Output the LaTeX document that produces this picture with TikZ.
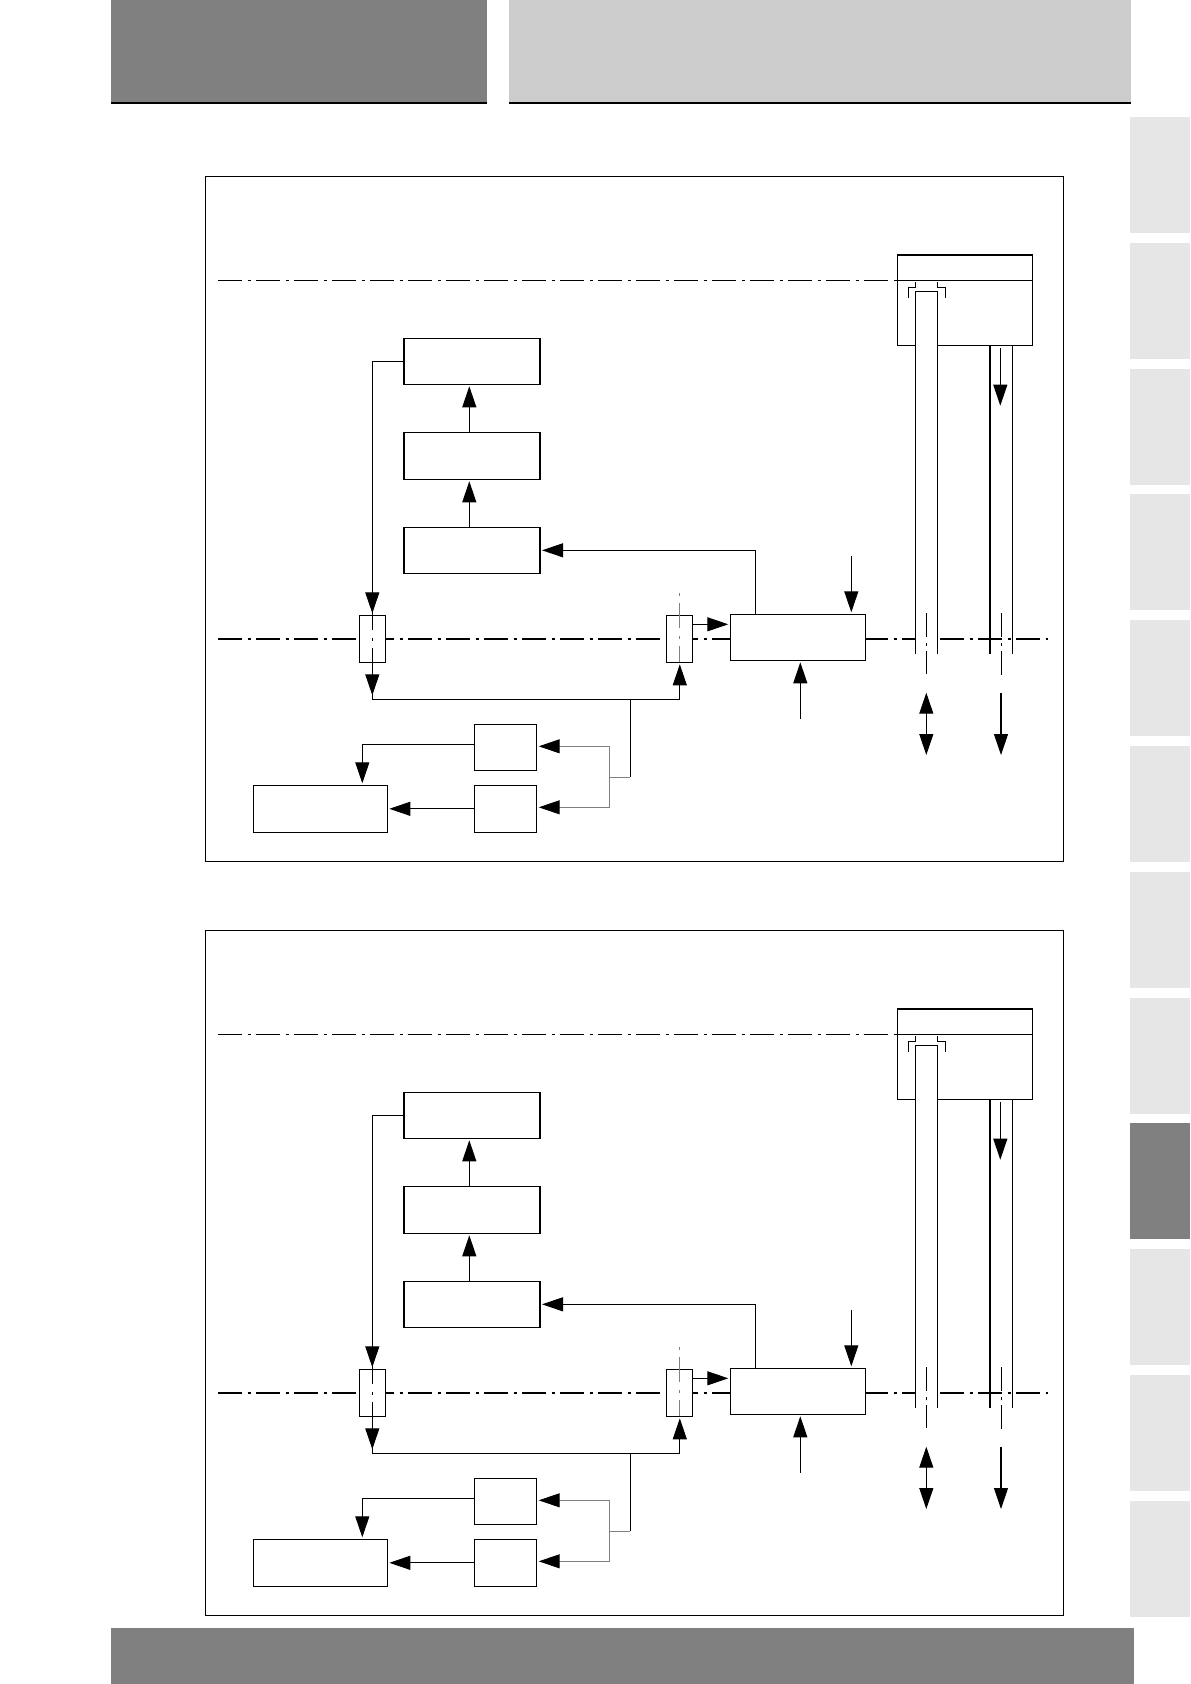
\documentclass[tikz,border=0pt]{standalone}
\usepackage{tikz}
\usetikzlibrary{arrows.meta, positioning}
\usepackage{xcolor}

\definecolor{headdark}{HTML}{808080}
\definecolor{headlight}{HTML}{CCCCCC}
\definecolor{tablight}{HTML}{E6E6E6}

\tikzset{
    panel/.pic={
        % Axes go first, the boxes are filled white on top
        \coordinate (ua) at (4.36,-5.606);
        \coordinate (ub) at (17.946,-5.606);
        \coordinate (ma) at (4.36,-12.78);
        \coordinate (mb) at (20.96,-12.78);
        \draw[thinaxis] (ua) -- (ub);
        \draw[thickaxis] (ma) -- (mb);
        % Frame
        \node[box, minimum width=17.16cm, minimum height=13.7cm, fill=none] (frame) at (12.69,-10.38) {};
        % Nodes
        \node[box, minimum width=2.72cm, minimum height=0.92cm] (store) at (9.44,-11.006) {};
        \node[box, minimum width=2.72cm, minimum height=0.94cm, above=0.96cm of store] (calc) {};
        \node[box, minimum width=2.72cm, minimum height=0.92cm, above=0.96cm of calc] (ctrl) {};
        \node[gate] (gl) at (7.446,-12.776) {};
        \node[gate, right=5.62cm of gl] (gr) {};
        \node[box, minimum width=2.71cm, minimum height=0.92cm, right=0.76cm of gr, yshift=0.03cm] (unit) {};
        \node[box, minimum width=1.248cm, minimum height=0.92cm] (sa) at (10.11,-14.946) {};
        \node[box, minimum width=1.248cm, minimum height=0.94cm, below=0.30cm of sa] (sb) {};
        \node[box, minimum width=2.68cm, minimum height=0.94cm, left=1.74cm of sb] (out) {};
        \node[box, minimum width=2.708cm, minimum height=1.806cm] (tank) at (19.3,-6.003) {};
        % Tank and pipes
        \draw (tank.west |- ua) -- (tank.east |- ua);
        \draw[fill=white] (18.306,-13.074) -- (18.306,-5.826) -- (18.746,-5.826) -- (18.746,-13.074);
        \draw (19.8,-6.906) -- (19.8,-13.074);
        \draw (20.246,-6.906) -- (20.246,-13.074);
        \draw (18.166,-5.954) -- (18.166,-5.746) -- (18.306,-5.746) -- (18.306,-5.64);
        \draw (18.906,-5.954) -- (18.906,-5.746) -- (18.746,-5.746) -- (18.746,-5.64);
        % Vertical axes
        \draw[vaxis] ([yshift=0.21cm]gl.north) -- (gl.south);
        \draw[vaxis, gray, dash phase=0.66cm] ([xshift=0.01cm, yshift=0.45cm]gr.north) -- ([xshift=0.01cm]gr.south);
        \coordinate (pa) at (18.526,-12.266);
        \coordinate (pb) at (18.526,-13.48);
        \coordinate (qa) at (20.034,-12.266);
        \coordinate (qb) at (20.034,-13.5);
        \draw[pipeaxis] (pa) -- (pb);
        \draw[pipeaxis] (qa) -- (qb);
        % Arrows
        \draw[arr] (store.north -| 9.386,0) -- (calc.south -| 9.386,0);
        \draw[arr] (calc.north -| 9.386,0) -- (ctrl.south -| 9.386,0);
        \draw[arr] (ctrl.west) -| (gl.north);
        \draw[arr] ([xshift=-0.854cm]unit.north) |- (store.east);
        \draw[arr] ([yshift=0.29cm]gr.east) -- ([yshift=0.26cm]unit.west);
        \coordinate (busl) at (7.446,-13.986);
        \coordinate (tee) at (12.606,-13.986);
        \coordinate (splt) at (12.186,-15.546);
        \draw (gl.south) -- (busl);
        \draw[arr, shorten >=0.08cm] (gl.south) -- (busl);
        \draw[arr] (busl) -| ([xshift=0.01cm]gr.south);
        \draw (tee) -- (tee |- splt);
        \draw[gray] (tee |- splt) -- (splt);
        \draw[greyarr] (splt) |- ([yshift=0.02cm]sa.east);
        \draw[greyarr] (splt) |- ([yshift=0.03cm]sb.east);
        \draw[arr] ([yshift=0.06cm]sa.west) -| ([xshift=0.84cm]out.north);
        \draw[arr] (sb.west) -- (out.east);
        \coordinate (ina) at (17.026,-11.12);
        \coordinate (inb) at (16.006,-14.38);
        \draw[arr] (ina) -- (ina |- unit.north);
        \draw[arr] (inb) -- (inb |- unit.south);
        \coordinate (dra) at (20.006,-6.966);
        \coordinate (drb) at (20.006,-8.114);
        \draw[arr, shorten >=0pt] (dra) -- (drb);
        \coordinate (bia) at (18.526,-13.854);
        \coordinate (bib) at (18.526,-15.1);
        \draw[biarr] (bia) -- (bib);
        \coordinate (ota) at (20.02,-13.866);
        \coordinate (otb) at (20.02,-15.1);
        \draw[arr, shorten >=0pt] (ota) -- (otb);
    }
}

\begin{document}
\begin{tikzpicture}[
    line width=0.6pt,
    box/.style={rectangle, draw, fill=white, inner sep=0pt, outer sep=0pt},
    gate/.style={rectangle, draw, fill=white, inner sep=0pt, outer sep=0pt, minimum width=0.52cm, minimum height=0.94cm},
    band/.style={rectangle, inner sep=0pt, outer sep=0pt, anchor=north west},
    thinaxis/.style={line width=0.5pt, dash pattern=on 0.48cm off 0.11cm on 0.06cm off 0.11cm},
    thickaxis/.style={line width=1.1pt, dash pattern=on 0.48cm off 0.11cm on 0.06cm off 0.11cm},
    vaxis/.style={line width=0.5pt, dash pattern=on 0.5cm off 0.16cm on 0.06cm off 0.14cm},
    pipeaxis/.style={line width=0.55pt, dash pattern=on 0.48cm off 0.11cm on 0.06cm off 0.11cm},
    arr/.style={-{Triangle[length=4.2mm, width=2.8mm, color=black]}, shorten >=0.04cm},
    greyarr/.style={arr, gray},
    biarr/.style={{Triangle[length=4.2mm, width=2.8mm]}-{Triangle[length=4.2mm, width=2.8mm]}}
]
    \useasboundingbox (0,0) rectangle (23.8,-33.68);

    % Page furniture
    \node[band, fill=headdark, minimum width=7.52cm, minimum height=2.06cm] (headl) at (2.22,0) {};
    \node[band, fill=headlight, minimum width=12.44cm, minimum height=2.06cm] (headr) at (10.18,0) {};
    \node[band, fill=headdark, minimum width=20.46cm, minimum height=1.12cm] (foot) at (2.22,-32.56) {};
    \draw[line width=1.2pt] (headl.south west) -- (headl.south east);
    \draw[line width=1.2pt] (headr.south west) -- (headr.south east);
    \foreach \i in {0,...,11}
        \node[band, fill=tablight, minimum width=1.2cm, minimum height=2.32cm] (tab\i) at (22.6,-2.34-2.516*\i) {};
    \node[band, fill=headdark, minimum width=1.2cm, minimum height=2.32cm] (tabsel) at (tab8.north west) {};

    % Both panels
    \pic (upper) at (0,0) {panel};
    \pic (lower) at (0,-15.08) {panel};
\end{tikzpicture}
\end{document}
